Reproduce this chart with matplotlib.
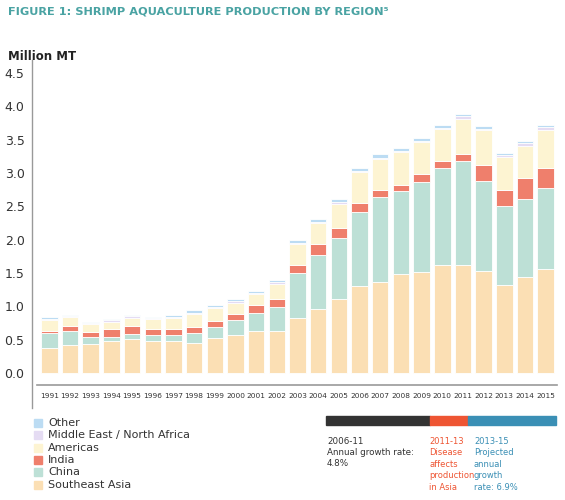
import matplotlib
matplotlib.use("Agg")
import matplotlib.pyplot as plt
import numpy as np
from matplotlib.lines import Line2D
from matplotlib.patches import Rectangle

years = list(range(1991, 2016))
southeast_asia = [0.375,0.415,0.44,0.48,0.51,0.48,0.48,0.45,0.53,0.575,0.635,0.635,0.825,0.955,1.115,1.31,1.365,1.48,1.515,1.625,1.625,1.525,1.32,1.445,1.56]
china = [0.22,0.22,0.095,0.065,0.07,0.095,0.095,0.145,0.155,0.22,0.27,0.355,0.68,0.815,0.905,1.10,1.275,1.255,1.355,1.455,1.56,1.36,1.185,1.17,1.21]
india = [0.04,0.07,0.08,0.12,0.12,0.09,0.09,0.09,0.09,0.09,0.11,0.125,0.11,0.165,0.16,0.14,0.105,0.09,0.11,0.10,0.105,0.24,0.245,0.31,0.31]
americas = [0.16,0.13,0.115,0.105,0.13,0.14,0.16,0.20,0.20,0.17,0.17,0.225,0.32,0.315,0.36,0.465,0.47,0.49,0.49,0.48,0.52,0.515,0.495,0.485,0.565]
mena = [0.02,0.015,0.015,0.02,0.02,0.015,0.02,0.02,0.015,0.02,0.015,0.02,0.015,0.02,0.02,0.02,0.015,0.01,0.015,0.02,0.045,0.025,0.02,0.04,0.04]
other = [0.02,0.02,0.025,0.02,0.02,0.02,0.02,0.035,0.025,0.03,0.03,0.03,0.045,0.045,0.045,0.04,0.05,0.045,0.035,0.045,0.03,0.035,0.04,0.03,0.04]
series_names = ["Southeast Asia","China","India","Americas","Middle East / North Africa","Other"]
colors = ["#fbdfb4","#bde0d6","#ef7f6c","#fdf4d2","#e5dcf3","#bcdcf3"]
yticks = [0.0,0.5,1.0,1.5,2.0,2.5,3.0,3.5,4.0,4.5]

fig = plt.figure(figsize=(5.65,5.0), dpi=100)
ax = fig.add_axes([37/565, 0.23, 520/565, 0.65])
x = np.arange(len(years))
bottom = np.zeros(len(years))
for vals, c in zip([southeast_asia,china,india,americas,mena,other], colors):
    ax.bar(x, vals, bottom=bottom, width=0.8, color=c, edgecolor="white", linewidth=0.6)
    bottom += np.array(vals)
ax.set_xlim(-0.6, len(years)-0.45)
ax.set_ylim(-0.18, 4.695)
ax.set_yticks(yticks)
ax.set_yticklabels([f"{v:.1f}" for v in yticks], fontsize=9, color="#333333")
ax.set_xticks(x)
ax.set_xticklabels([str(y) for y in years], fontsize=5.3, color="#333333")
ax.tick_params(length=0, axis="both")
ax.tick_params(axis="x", pad=6)
ax.tick_params(axis="y", pad=9)
for s in ["top","right","left"]:
    ax.spines[s].set_visible(False)
ax.spines["bottom"].set_color("#999999")
ax.spines["bottom"].set_linewidth(1.2)

fig.add_artist(Line2D([32/565,32/565],[1-60/500,1-408/500], color="#999999", lw=1.0))
fig.text(8/565, 1-12/500, "FIGURE 1: SHRIMP AQUACULTURE PRODUCTION BY REGION\u2075", color="#4aa3a3",
         fontsize=8.2, fontweight="bold", va="center", ha="left")
fig.text(8/565, 1-56/500, "Million MT", fontsize=8.5, fontweight="bold", va="center", ha="left", color="#222222")

# legend
leg_order = list(range(5, -1, -1))
for i, k in enumerate(leg_order):
    yc = 1-(423+i*12.3)/500
    fig.add_artist(Rectangle((34/565, yc-4/500), 8/565, 8/500, color=colors[k], transform=fig.transFigure))
    fig.text(48/565, yc, series_names[k], fontsize=8, va="center", ha="left", color="#333333")

# period bar
segs = [(326, 430, "#333333"), (430, 468, "#ee5533"), (468, 556, "#3a8fb5")]
for a, b, c in segs:
    fig.add_artist(Rectangle((a/565, 1-425/500), (b-a)/565, 9/500, color=c, transform=fig.transFigure))
fig.text(327/565, 1-437/500, "2006-11\nAnnual growth rate:\n4.8%", fontsize=6.3, va="top", ha="left",
         color="#333333", linespacing=1.25)
fig.text(429/565, 1-437/500, "2011-13\nDisease\naffects\nproduction\nin Asia", fontsize=6.0, va="top", ha="left",
         color="#ee5533", linespacing=1.35)
fig.text(474/565, 1-437/500, "2013-15\nProjected\nannual\ngrowth\nrate: 6.9%", fontsize=6.0, va="top", ha="left",
         color="#3a8fb5", linespacing=1.35)

fig.savefig("out.png", dpi=100)
